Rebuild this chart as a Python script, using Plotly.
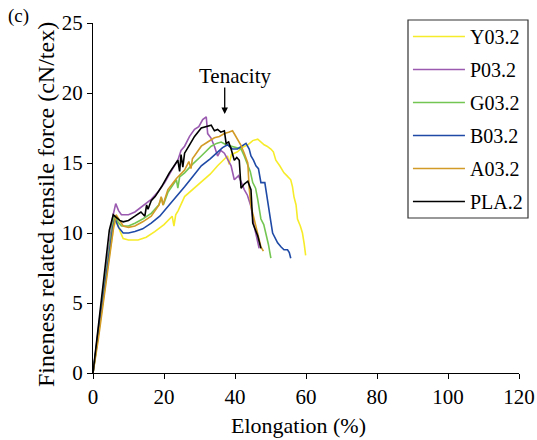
import plotly.graph_objects as go

# Elongation (%) and fineness related tensile force (cN/tex)
y03_x = [0, 1.5, 3, 4.5, 5.8, 6.6, 7.5, 8.5, 10, 12.7, 15, 17.4, 20, 22.3, 22.8, 23.3, 24, 25.8, 28, 30.5, 33, 35.1, 37.2, 37.9, 38.3, 39, 40.7, 42, 43.6, 45, 46.4, 47.2, 48.2, 49, 50.1, 50.8, 51.5, 52.6, 53.8, 54.6, 55.7, 56.2, 56.6, 57.2, 57.6, 58.4, 59, 59.5, 59.9]
y03_y = [0, 2.6, 5.4, 8.2, 10.4, 11.0, 10.2, 9.6, 9.5, 9.5, 9.7, 10.1, 10.6, 11.2, 10.5, 11.3, 11.6, 12.6, 13.1, 13.6, 14.2, 14.8, 15.3, 15.5, 14.9, 15.6, 15.8, 16.1, 16.3, 16.6, 16.7, 16.5, 16.3, 16.2, 16.0, 15.8, 15.2, 14.8, 14.3, 14.1, 13.8, 13.3, 12.6, 12.0, 11.0, 10.5, 10.0, 9.2, 8.4]

p03_x = [0, 1.5, 3, 4.5, 5.6, 6.4, 7.2, 8, 10, 11.8, 14, 16.4, 18.2, 20.2, 22, 23.9, 24.8, 25.8, 27.2, 28.6, 29.8, 30.9, 31.9, 32.3, 33.2, 34.2, 35.1, 36, 37, 38, 38.9, 39.8, 41, 41.8, 42.6, 43.5, 44.5, 45.4, 46.4, 46.8]
p03_y = [0, 3.2, 6.2, 9.0, 11.2, 12.1, 11.6, 11.3, 11.3, 11.5, 11.9, 12.4, 12.9, 13.6, 14.4, 15.2, 15.9, 16.2, 16.9, 17.4, 17.6, 18.1, 18.3, 17.1, 16.8, 16.2, 15.5, 15.9, 15.7, 15.2, 14.8, 13.8, 14.1, 13.6, 13.1, 12.7, 11.9, 10.5, 9.5, 8.9]

g03_x = [0, 1.5, 3, 4.5, 5.5, 6.1, 7, 8, 10, 11.8, 14, 16.4, 18.5, 19.3, 19.8, 21.1, 23.5, 23.9, 24.4, 25.8, 28, 30.5, 32, 33.3, 34.8, 36.1, 37.5, 38.9, 40.2, 41.7, 42.6, 43.6, 44.3, 45, 45.8, 46.4, 47.3, 48.1, 48.7, 49.4, 50.1]
g03_y = [0, 2.8, 5.8, 8.6, 10.6, 11.2, 10.8, 10.5, 10.5, 10.7, 11.0, 11.4, 12.0, 12.5, 12.0, 12.9, 13.8, 13.2, 14.0, 14.3, 14.9, 15.5, 15.9, 16.2, 16.4, 16.5, 16.3, 16.2, 16.1, 16.0, 15.5, 14.8, 14.4, 13.6, 13.2, 12.4, 11.0, 10.6, 10.0, 9.2, 8.2]

b03_x = [0, 1.5, 3, 4.5, 5.6, 6.2, 7.2, 8.5, 10, 11.8, 14, 16.4, 18.8, 21.1, 23.5, 25.8, 28, 30.5, 33, 35.1, 36.5, 37.9, 39.3, 40.7, 42, 43.1, 44, 44.5, 45.2, 45.9, 46.6, 47.3, 48.4, 49, 49.6, 50.1, 50.6, 51.3, 52, 53, 53.8, 54.8, 55.3, 55.7]
b03_y = [0, 2.7, 5.6, 8.4, 10.4, 11.0, 10.4, 10.0, 10.0, 10.1, 10.3, 10.7, 11.2, 11.9, 12.6, 13.3, 14.0, 14.8, 15.3, 15.8, 16.1, 16.3, 16.0, 16.0, 16.2, 16.4, 16.0, 15.5, 15.2, 14.8, 14.6, 13.6, 13.6, 12.5, 11.4, 10.8, 10.0, 9.6, 9.3, 9.0, 8.8, 8.8, 8.6, 8.2]

a03_x = [0, 1.5, 3, 4.5, 5.8, 6.5, 7.4, 8.5, 10, 11.8, 14, 16.4, 18.6, 19.2, 19.7, 21.1, 23.5, 25.8, 27, 27.6, 28, 30.5, 32.3, 34.2, 35.6, 37, 38.2, 39.3, 40, 40.7, 41.6, 42.6, 43.1, 43.6, 44, 44.5, 45.2, 45.9, 46.6, 47.3, 48]
a03_y = [0, 2.4, 5.2, 8.0, 10.4, 11.3, 10.9, 10.5, 10.4, 10.5, 10.8, 11.2, 12.0, 12.6, 12.0, 13.1, 13.9, 14.5, 15.1, 14.6, 15.3, 16.2, 16.5, 16.8, 16.9, 17.1, 17.2, 17.3, 17.0, 16.7, 16.3, 15.7, 15.4, 15.0, 13.2, 11.9, 11.2, 10.5, 9.8, 9.0, 8.7]

pla_x = [0, 1.5, 3, 3.8, 4.6, 5.7, 6.5, 7.5, 8.5, 10, 11.8, 13.5, 14.6, 15.1, 15.5, 16.4, 17.5, 19.3, 21.5, 23.9, 24.4, 24.8, 25.3, 25.8, 27.2, 28.6, 30.5, 32, 33.3, 34.2, 35.1, 36, 37, 37.5, 38.2, 38.9, 39.8, 40.5, 41.2, 41.7, 42.6, 43.6, 44.5, 45, 45.7, 46.4, 47.3]
pla_y = [0, 3.4, 6.6, 8.8, 10.2, 11.3, 11.1, 10.9, 10.8, 10.9, 11.2, 11.5, 11.2, 12.0, 11.7, 12.3, 12.6, 13.3, 14.3, 15.2, 14.4, 15.6, 14.7, 15.7, 16.3, 16.9, 17.5, 17.6, 17.7, 17.3, 17.4, 17.2, 17.3, 16.4, 16.5, 16.0, 15.2, 15.4, 15.2, 13.2, 13.5, 13.7, 13.1, 10.7, 10.3, 9.8, 8.9]

series_names = ["Y03.2", "P03.2", "G03.2", "B03.2", "A03.2", "PLA.2"]
series_x = [y03_x, p03_x, g03_x, b03_x, a03_x, pla_x]
series_y = [y03_y, p03_y, g03_y, b03_y, a03_y, pla_y]
colors = ["#f7ec2a", "#9a5ab0", "#74c653", "#1f4aa6", "#d29a26", "#000000"]

x_ticks = [0, 20, 40, 60, 80, 100, 120]
y_ticks = [0, 5, 10, 15, 20, 25]

font_family = "Liberation Serif"

fig = go.Figure()
for i, (name, xs, ys, c) in enumerate(zip(series_names, series_x, series_y, colors)):
    fig.add_trace(go.Scatter(
        x=xs, y=ys, mode="lines", name=name, legendgroup=name,
        line=dict(color=c, width=1.6),
    ))

fig.add_annotation(
    x=37.1, y=18.5, ax=37.1, ay=20.5, xref="x", yref="y", axref="x", ayref="y",
    text="", showarrow=True, arrowhead=2, arrowsize=1, arrowwidth=1.3, arrowcolor="black",
)
fig.add_annotation(
    x=40, y=21.2, xref="x", yref="y", text="Tenacity", showarrow=False,
    font=dict(family=font_family, size=21, color="black"),
)
fig.add_annotation(
    x=0.0, y=1.0, xref="paper", yref="paper", text="(c)", showarrow=False,
    xshift=-75, yshift=-6, xanchor="center", yanchor="bottom",
    font=dict(family=font_family, size=19, color="black"),
)
# axis titles
fig.add_annotation(
    x=0.0, y=0.5, xref="paper", yref="paper", text="Fineness related tensile force (cN/tex)",
    showarrow=False, textangle=-90, xanchor="center", yanchor="middle",
    xshift=-47, yshift=-7,
    font=dict(family=font_family, size=24, color="black"),
)
fig.add_annotation(
    x=0.5, y=0.0, xref="paper", yref="paper", text="Elongation (%)",
    showarrow=False, xanchor="center", yanchor="middle",
    xshift=-8, yshift=-52,
    font=dict(family=font_family, size=22, color="black"),
)

# legend frame
fig.add_shape(
    type="rect", xref="paper", yref="paper",
    x0=(408 - 93) / 426, x1=(528 - 93) / 426,
    y0=(373 - 218) / 350, y1=(373 - 20) / 350,
    line=dict(color="#333333", width=1.2), fillcolor="white", layer="above",
)

fig.update_layout(
    width=537, height=440,
    margin=dict(l=93, r=18, t=23, b=67, autoexpand=False),
    paper_bgcolor="white", plot_bgcolor="white",
    font=dict(family=font_family, size=20, color="black"),
    showlegend=True,
    legend=dict(
        x=1.021, y=1.0171, xanchor="right", yanchor="top",
        borderwidth=0, bgcolor="rgba(0,0,0,0)",
        font=dict(family=font_family, size=20, color="black"),
        tracegroupgap=4, itemwidth=52,
    ),
)

fig.update_xaxes(
    range=[0, 120], tickvals=x_ticks, ticks="outside", ticklen=5, tickcolor="black",
    showline=True, linecolor="black", linewidth=1.2, showgrid=False, zeroline=False,
    automargin=False,
    tickfont=dict(family=font_family, size=21),
)
fig.update_yaxes(
    range=[0, 25], tickvals=y_ticks, ticks="outside", ticklen=5, tickcolor="black",
    showline=True, linecolor="black", linewidth=1.2, showgrid=False, zeroline=False,
    automargin=False,
    tickfont=dict(family=font_family, size=21),
)

fig.write_html("out.html")
